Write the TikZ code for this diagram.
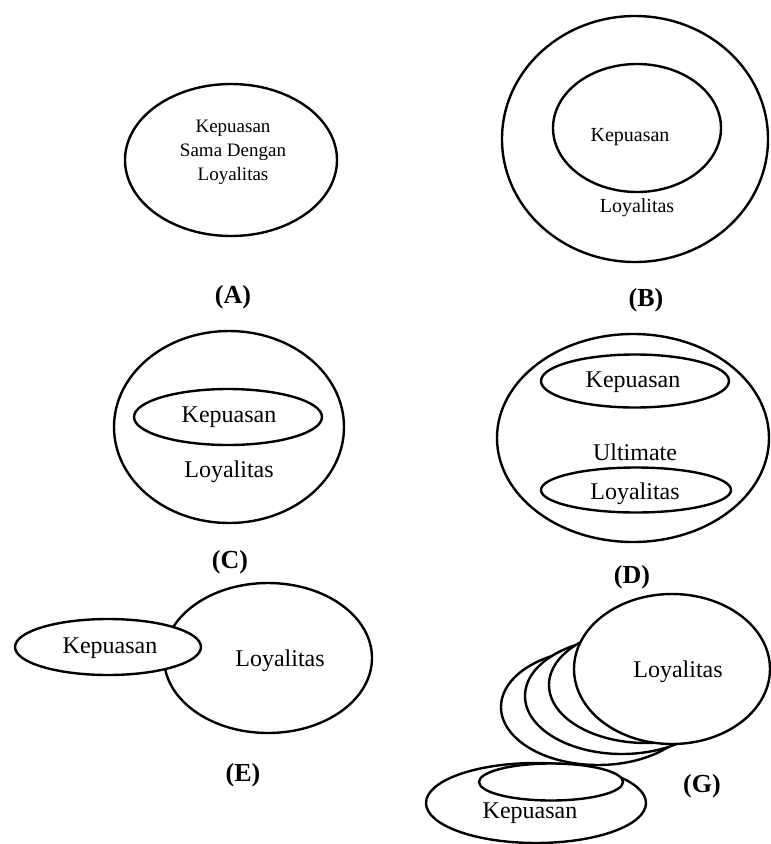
\documentclass[tikz,border=0pt]{standalone}
\usepackage{fontspec}
\setmainfont{Liberation Serif}
\usetikzlibrary{shapes.geometric}

\tikzset{oval/.style={draw,ellipse,line width=2.4pt,inner sep=0pt,fill=white},
  lab/.style={font=\fontsize{26}{30}\selectfont\bfseries},
  txt/.style={font=\fontsize{24}{28}\selectfont}}

\begin{document}
\begin{tikzpicture}[x=1pt,y=-1pt]
\useasboundingbox (0,0) rectangle (771,844);

% (A)
\node[oval,minimum width=212,minimum height=152] (a) at (231,160){};
\node[font=\fontsize{19}{24}\selectfont,align=center] (at) at (233,152){Kepuasan\\Sama Dengan\\Loyalitas};
\node[lab] (al) at (233,297){(A)};

% (B)
\node[oval,minimum width=266,minimum height=246] (b) at (635,139){};
\node[oval,minimum width=168,minimum height=128] (b1) at (637,128){};
\node[font=\fontsize{20}{24}\selectfont] (bk) at (630,137){Kepuasan};
\node[font=\fontsize{20}{24}\selectfont] (bl) at (637,208){Loyalitas};
\node[lab] (bla) at (646,300){(B)};

% (C)
\node[oval,minimum width=230,minimum height=192] (c) at (229,427){};
\node[oval,minimum width=188,minimum height=56] (c1) at (228,417){};
\node[txt] (ck) at (229,417){Kepuasan};
\node[txt] (cl) at (229,472){Loyalitas};
\node[lab] (cla) at (230,562){(C)};

% (D)
\node[oval,minimum width=272,minimum height=208] (d) at (633,438){};
\node[oval,minimum width=188,minimum height=53] (d1) at (635,381){};
\node[oval,minimum width=190,minimum height=45] (d2) at (636,490){};
\node[txt] (dk) at (633,382){Kepuasan};
\node[txt] (du) at (635,452){Ultimate};
\node[txt] (dl) at (635,494){Loyalitas};
\node[lab] (dla) at (632,577){(D)};

% (E)
\node[oval,minimum width=208,minimum height=150] (e) at (268,658){};
\node[oval,minimum width=186,minimum height=56] (e1) at (108,647){};
\node[txt] (ek) at (110,648){Kepuasan};
\node[txt] (el) at (280,661){Loyalitas};
\node[lab] (ela) at (243,775){(E)};

% (G)
\foreach \i in {3,2,1}
  \node[oval,minimum width=194,minimum height=116] (g\i) at ({670-24*\i},{674+11*\i}){};
\node[oval,minimum width=196,minimum height=150] (g0) at (672,669){};
\node[txt] (gl) at (678,672){Loyalitas};
\node[oval,minimum width=220,minimum height=80] (gk) at (536,803){};
\node[oval,minimum width=144,minimum height=37] (gk1) at (551,782){};
\node[txt] (gkt) at (530,813){Kepuasan};
\node[lab] (gla) at (702,786){(G)};

\end{tikzpicture}
\end{document}
